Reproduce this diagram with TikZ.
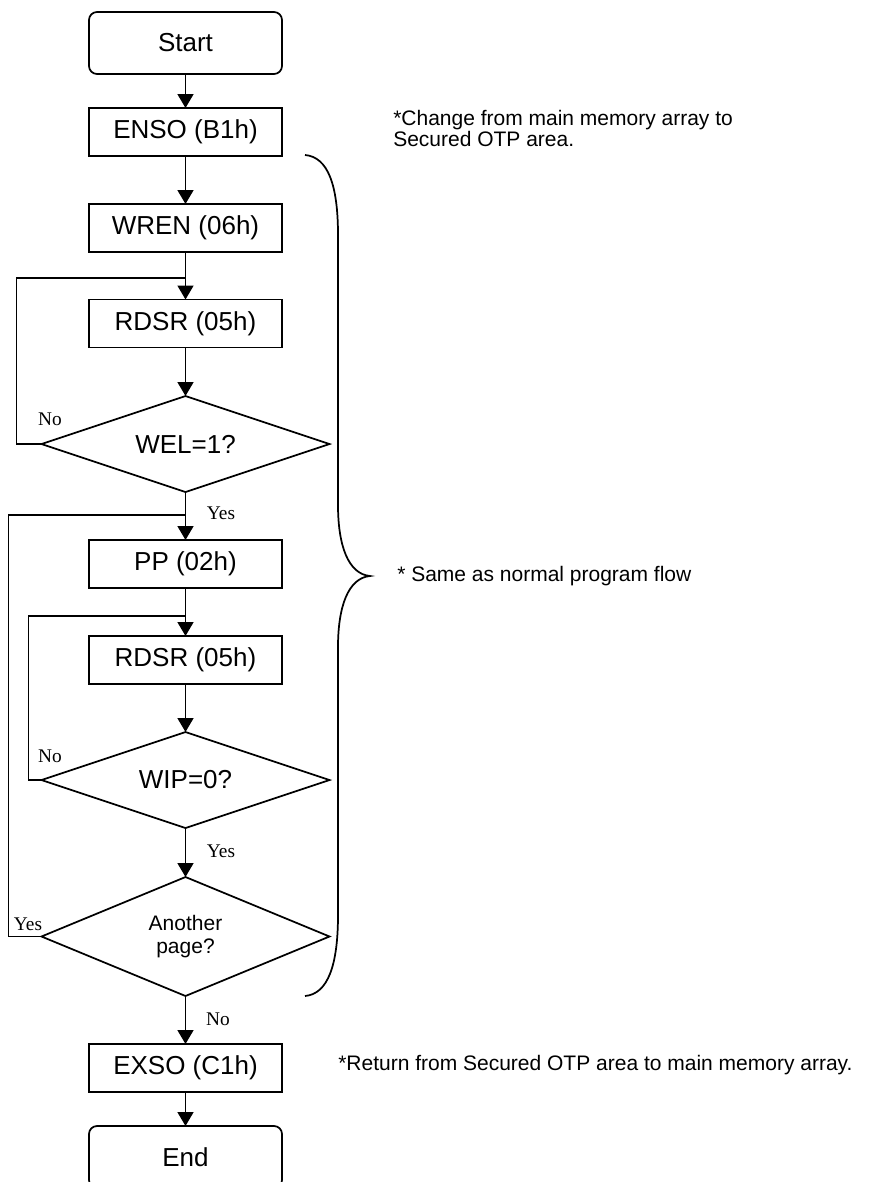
\documentclass[tikz,border=0pt]{standalone}
\usepackage{fontspec}
\setmainfont{Liberation Sans}
\newfontfamily\lblfont{Liberation Serif}
\usetikzlibrary{shapes.geometric,arrows.meta}
\begin{document}
\begin{tikzpicture}[x=0.75pt,y=-0.75pt,
  ln/.style={line width=1.3pt},
  arr/.style={ln,-{Triangle[length=10.5pt,width=12pt]}},
  procbox/.style={draw,line width=1.3pt,minimum width=144.75pt,minimum height=36pt,inner sep=0pt,outer sep=0pt,font=\fontsize{19.5pt}{21pt}\selectfont},
  termbox/.style={procbox,rounded corners=6pt,minimum height=46.5pt},
  decbox/.style={draw,line width=1.3pt,diamond,aspect=3,minimum width=216pt,minimum height=72pt,inner sep=0pt,outer sep=0pt,font=\fontsize{19.5pt}{21pt}\selectfont},
  lbl/.style={inner sep=0pt,font=\lblfont\fontsize{14.5pt}{16pt}\selectfont},
  note/.style={inner sep=0pt,align=left,font=\fontsize{15.75pt}{15.75pt}\selectfont}]
\useasboundingbox (0,0) rectangle (874,1182);
\clip (0,0) rectangle (874,1182);
% nodes
\node[termbox] (start) at (185.5,43) {Start};
\node[procbox] (enso) at (185.5,132) {ENSO (B1h)};
\node[procbox] (wren) at (185.5,228) {WREN (06h)};
\node[procbox] (rdsr1) at (185.5,323.5) {RDSR (05h)};
\node[decbox] (wel) at (185.5,444) {WEL=1?};
\node[procbox] (pp) at (185.5,564) {PP (02h)};
\node[procbox] (rdsr2) at (185.5,660) {RDSR (05h)};
\node[decbox] (wip) at (185.5,780) {WIP=0?};
\node[decbox,minimum height=89.25pt,align=center,font=\fontsize{15.75pt}{17.5pt}\selectfont] (another) at (185.5,936.5) {Another\\page?};
\node[procbox] (exso) at (185.5,1068) {EXSO (C1h)};
\node[termbox] (end) at (185.5,1157) {End};
% junction coordinates
\coordinate (j1) at (185.5,278);
\coordinate (j2) at (185.5,515);
\coordinate (j3) at (185.5,616);
% connectors
\draw[arr] (start) -- (enso);
\draw[arr] (enso) -- (wren);
\draw[arr] (wren) -- (rdsr1);
\draw[arr] (rdsr1) -- (wel);
\draw[ln] (wel.west) -- ++(-25,0) |- (j1);
\draw[arr] (wel) -- (pp);
\draw[arr] (pp) -- (rdsr2);
\draw[arr] (rdsr2) -- (wip);
\draw[ln] (wip.west) -- ++(-13,0) |- (j3);
\draw[arr] (wip) -- (another);
\draw[ln] (another.west) -- ++(-33,0) |- (j2);
\draw[arr] (another) -- (exso);
\draw[arr] (exso) -- (end);
% labels
\node[lbl] (no1) at (50,419) {No};
\node[lbl] (yes1) at (221,513) {Yes};
\node[lbl] (no2) at (50,756) {No};
\node[lbl] (yes2) at (221,851) {Yes};
\node[lbl] (yes3) at (28,924) {Yes};
\node[lbl] (no3) at (218,1019) {No};
% brace
\draw[ln] (305,155) .. controls (328,157) and (338,185) .. (338,235)
  -- (338,505) .. controls (338,545) and (348,574) .. (370,576)
  .. controls (348,578) and (338,607) .. (338,647)
  -- (338,915) .. controls (338,965) and (328,994) .. (305,996);
% notes
\node[note,anchor=north west] (n1) at (393,110) {*Change from main memory array to\\Secured OTP area.};
\node[note,anchor=west] (n2) at (397,576) {* Same as normal program flow};
\node[note,anchor=base west] (n3) at (338,1070) {*Return from Secured OTP area to main memory array.};
\end{tikzpicture}
\end{document}
